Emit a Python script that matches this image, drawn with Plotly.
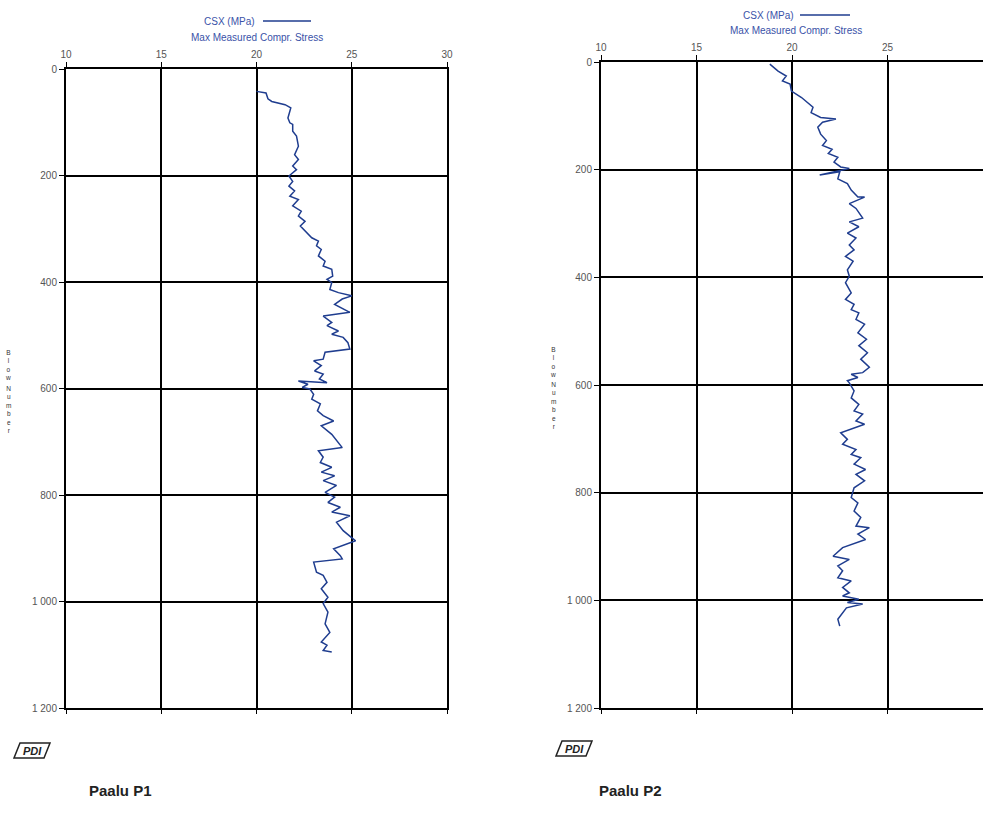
import plotly.graph_objects as go

# ---------------- data ----------------
p1_blow = [42, 45, 56, 61, 67, 73, 92, 101, 104, 117, 126, 145, 161, 170, 182, 189, 201, 211, 220, 229,
           239, 245, 257, 267, 276, 286, 295, 307, 317, 323, 332, 339, 351, 361, 370, 376, 389, 395, 401, 414,
           420, 426, 432, 442, 448, 451, 457, 464, 476, 482, 492, 498, 504, 514, 526, 532, 545, 548, 557, 567,
           573, 582, 589, 586, 592, 598, 601, 611, 620, 629, 642, 651, 661, 670, 686, 711, 717, 729, 739, 748,
           757, 764, 773, 782, 795, 804, 814, 823, 832, 839, 851, 867, 886, 901, 914, 920, 926, 945, 951, 964,
           976, 992, 1004, 1020, 1042, 1058, 1076, 1082, 1092, 1095]
p1_csx = [20.0, 20.5, 20.6, 20.8, 21.5, 21.8, 21.65, 21.75, 21.9, 21.9, 22.1, 22.2, 22.0, 22.2, 21.9, 22.1, 21.7, 21.9, 21.7, 22.0,
          21.75, 22.2, 21.9, 22.35, 22.2, 22.55, 22.3, 22.6, 22.9, 23.25, 23.15, 23.4, 23.25, 23.6, 23.5, 23.95, 24.0, 23.7, 23.95, 23.85,
          24.3, 25.0, 24.5, 24.1, 24.4, 24.55, 24.9, 23.5, 23.95, 23.7, 24.3, 23.95, 24.55, 24.8, 24.9, 23.6, 23.5, 23.0, 23.4, 23.05,
          23.5, 23.3, 23.7, 22.2, 22.7, 22.4, 22.8, 23.0, 22.9, 23.35, 23.2, 23.5, 24.05, 23.4, 23.95, 24.5, 23.25, 23.5, 23.35, 23.95,
          23.4, 24.1, 23.5, 24.2, 23.6, 24.1, 23.75, 24.4, 23.95, 24.9, 24.2, 24.55, 25.2, 24.05, 24.4, 24.5, 23.0, 23.15, 23.5, 23.7,
          23.4, 23.75, 23.5, 23.75, 23.6, 23.85, 23.4, 23.7, 23.5, 23.95]

p2_blow = [4, 17, 26, 35, 41, 54, 66, 75, 84, 94, 103, 106, 112, 121, 134, 146, 155, 162, 170, 177,
           186, 195, 198, 210, 204, 217, 226, 238, 251, 251, 263, 272, 290, 297, 306, 318, 327, 340, 349, 361,
           370, 386, 398, 410, 429, 441, 450, 460, 466, 478, 487, 503, 515, 527, 540, 552, 567, 577, 580, 586,
           592, 596, 611, 624, 636, 648, 654, 667, 673, 689, 701, 710, 720, 729, 735, 747, 757, 766, 778, 791,
           809, 819, 834, 846, 862, 865, 877, 887, 893, 902, 918, 924, 936, 945, 958, 964, 976, 986, 992, 998,
           1004, 1007, 1014, 1023, 1035, 1048]
p2_csx = [18.84, 19.27, 19.7, 19.5, 19.9, 19.97, 20.5, 20.8, 21.1, 21.0, 21.5, 22.3, 21.6, 21.35, 21.5, 21.8, 21.6, 22.1, 21.9, 22.4,
          22.2, 22.55, 23.0, 21.45, 22.5, 22.4, 22.9, 23.1, 23.45, 23.8, 23.0, 23.35, 23.7, 23.0, 23.5, 22.9, 23.35, 23.0, 23.25, 22.8,
          23.2, 22.9, 23.0, 22.8, 23.1, 22.8, 23.25, 23.1, 23.5, 23.35, 23.8, 23.45, 23.9, 23.5, 23.95, 23.6, 24.05, 23.7, 23.1, 23.45,
          22.9, 23.0, 23.25, 23.1, 23.5, 23.25, 23.7, 23.35, 23.8, 22.55, 22.9, 22.65, 23.35, 23.1, 23.6, 23.25, 23.85, 23.35, 23.8, 23.25,
          23.1, 23.45, 23.25, 23.6, 23.35, 24.05, 23.45, 23.85, 23.35, 22.65, 22.15, 23.0, 22.4, 22.65, 22.4, 23.1, 22.65, 23.0, 22.65, 23.5,
          22.9, 23.7, 22.85, 22.65, 22.4, 22.5]

x_ticks = [10, 15, 20, 25, 30]
y_ticks = [0, 200, 400, 600, 800, 1000, 1200]
y_tick_labels = ["0", "200", "400", "600", "800", "1 000", "1 200"]
panel_titles = ["Paalu P1", "Paalu P2"]
legend_name = "CSX (MPa)"
legend_sub = "Max Measured Compr. Stress"
y_title_words = ["Blow", "Number"]

# ---------------- layout ----------------
W, H = 983, 817
LINE_COLOR = "#1f3d8f"
TXT_BLUE = "#3a52a8"
NARROW = "Liberation Sans Narrow, Arial Narrow, Liberation Sans, sans-serif"
TICK_FONT = dict(family=NARROW, size=10, color="#555555")

def px_x(p):
    return p / W

def px_y(p):
    return 1 - p / H

panels = [
    dict(x0=66, x1=447, y0=69, y1=708),
    dict(x0=601, x1=983, y0=62, y1=708),
]

fig = go.Figure()
series = [(p1_csx, p1_blow), (p2_csx, p2_blow)]
for i, (xs, ys) in enumerate(series):
    n = "" if i == 0 else str(i + 1)
    fig.add_trace(go.Scatter(x=xs, y=ys, mode="lines", xaxis="x" + n, yaxis="y" + n,
                             line=dict(color=LINE_COLOR, width=1.5), showlegend=False, hoverinfo="skip"))
    fig.add_trace(go.Scatter(x=[x_ticks[0]], y=[y_ticks[0]], mode="markers", marker=dict(opacity=0),
                             xaxis="x" + str(i + 3), yaxis="y" + n, showlegend=False, hoverinfo="skip"))

axes = {}
for i, p in enumerate(panels):
    n = "" if i == 0 else str(i + 1)
    xd = [px_x(p["x0"]), min(1.0, px_x(p["x1"]))]
    yd = [px_y(p["y1"]), px_y(p["y0"])]
    axes["xaxis" + n] = dict(domain=xd, range=[10, 30], side="top", anchor="y" + n, automargin=False,
                             tickvals=x_ticks, ticktext=[str(v) for v in x_ticks],
                             ticks="outside", ticklen=5, tickcolor="black", tickwidth=1,
                             showgrid=True, gridcolor="black", gridwidth=1.8,
                             showline=True, linecolor="black", linewidth=2, mirror=True,
                             zeroline=False, tickfont=TICK_FONT, fixedrange=True)
    axes["yaxis" + n] = dict(domain=yd, range=[1200, 0], anchor="x" + n, automargin=False,
                             tickvals=y_ticks, ticktext=y_tick_labels,
                             ticks="outside", ticklen=5, tickcolor="black", tickwidth=1,
                             showgrid=True, gridcolor="black", gridwidth=1.8,
                             showline=True, linecolor="black", linewidth=2, mirror=True,
                             zeroline=False, tickfont=TICK_FONT, fixedrange=True)
    axes["xaxis" + str(i + 3)] = dict(domain=xd, range=[10, 30], side="bottom", anchor="y" + n,
                                      overlaying="x" + n, tickvals=x_ticks, showticklabels=False, automargin=False,
                                      ticks="outside", ticklen=5, tickcolor="black", tickwidth=1,
                                      showgrid=False, zeroline=False, showline=False, fixedrange=True)

fig.update_layout(width=W, height=H, autosize=False,
                  margin=dict(l=0, r=0, t=0, b=0, pad=0, autoexpand=False),
                  paper_bgcolor="white", plot_bgcolor="white", showlegend=False, **axes)

legend_pos = [dict(nx=229, ly=21, lx0=263, lx1=311, sy=37, sx=257),
              dict(nx=768, ly=15, lx0=800, lx1=850, sy=31, sx=796)]
ytitle_x = [8, 553]
ytitle_y = [[365, 409], [362, 406]]
logo_x = [14, 556]
logo_y = [743, 741]
title_x = [120, 630]

for i in range(2):
    lp = legend_pos[i]
    fig.add_annotation(x=px_x(lp["nx"]), y=px_y(lp["ly"]), xref="paper", yref="paper", text=legend_name,
                       showarrow=False, xanchor="center", yanchor="middle",
                       font=dict(family=NARROW, size=10, color=TXT_BLUE))
    fig.add_shape(type="line", xref="paper", yref="paper", x0=px_x(lp["lx0"]), x1=px_x(lp["lx1"]),
                  y0=px_y(lp["ly"]), y1=px_y(lp["ly"]), line=dict(color=LINE_COLOR, width=1.5))
    fig.add_annotation(x=px_x(lp["sx"]), y=px_y(lp["sy"]), xref="paper", yref="paper", text=legend_sub,
                       showarrow=False, xanchor="center", yanchor="middle",
                       font=dict(family=NARROW, size=10, color=TXT_BLUE))
    for w, word in enumerate(y_title_words):
        fig.add_annotation(x=px_x(ytitle_x[i]), y=px_y(ytitle_y[i][w]), xref="paper", yref="paper",
                           text="<br>".join(word), showarrow=False, xanchor="center", yanchor="middle",
                           font=dict(family="Liberation Sans, Arial, sans-serif", size=6.5, color="#333333"))
    lx, ly = logo_x[i], logo_y[i]
    x0, x1, sl = lx, lx + 30, 6
    path = "M {a},{b} L {c},{b} L {d},{e} L {f},{e} Z".format(
        a=px_x(x0 + sl), b=px_y(ly), c=px_x(x1 + sl), d=px_x(x1), e=px_y(ly + 15), f=px_x(x0))
    fig.add_shape(type="path", xref="paper", yref="paper", path=path,
                  line=dict(color="#222222", width=1.5), fillcolor="white")
    fig.add_annotation(x=px_x(lx + 18), y=px_y(ly + 7.5), xref="paper", yref="paper",
                       text="<b><i>PDI</i></b>", showarrow=False, xanchor="center", yanchor="middle",
                       font=dict(family="Liberation Sans, Arial, sans-serif", size=11, color="#222222"))
    fig.add_annotation(x=px_x(title_x[i]), y=px_y(790), xref="paper", yref="paper",
                       text="<b>" + panel_titles[i] + "</b>", showarrow=False, xanchor="center", yanchor="middle",
                       font=dict(family="Liberation Sans, Arial, sans-serif", size=15, color="#222222"))

fig.write_html("out.html", config={"displayModeBar": False},
               post_script="document.body.style.margin='0';document.body.style.overflow='hidden';")
